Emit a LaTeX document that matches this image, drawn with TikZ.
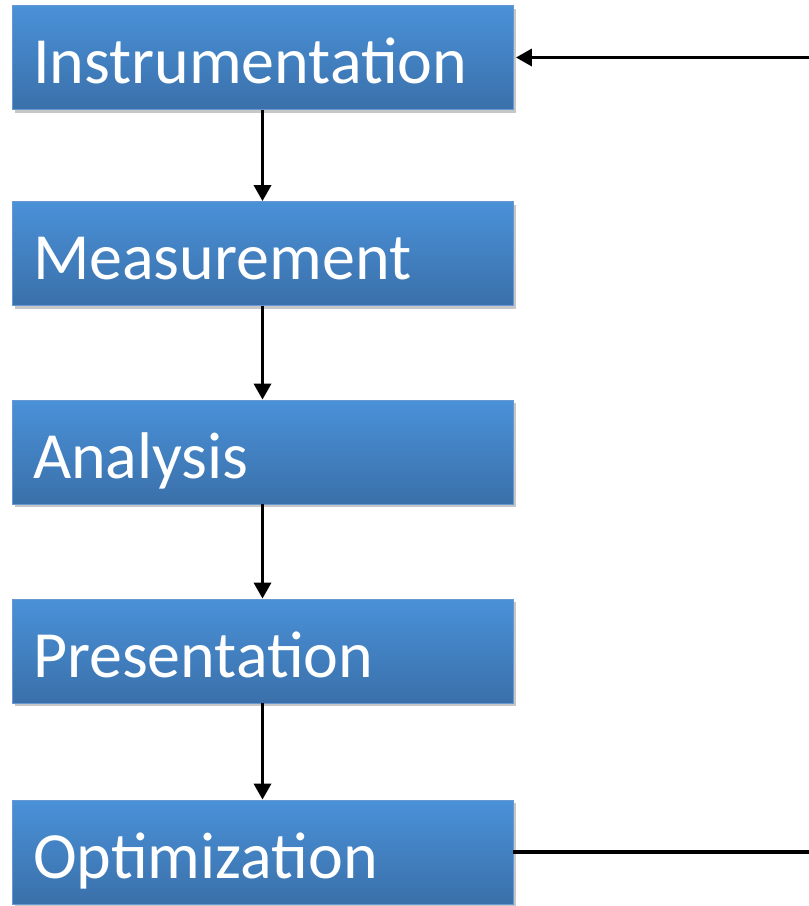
\documentclass[tikz,border=0pt]{standalone}
\usepackage{fontspec}
\setmainfont{Carlito}
\usetikzlibrary{arrows.meta,shadows}

\definecolor{boxtop}{RGB}{74,145,216}
\definecolor{boxbottom}{RGB}{58,112,170}
\definecolor{boxedge}{RGB}{104,152,210}

\tikzset{
  stage/.style={
    rectangle, draw=boxedge, line width=0.8pt,
    top color=boxtop, bottom color=boxbottom,
    drop shadow={shadow xshift=2.5pt, shadow yshift=-3pt, opacity=0.22, fill=black},
    minimum width=501pt, minimum height=104pt,
    text width=459pt, inner xsep=21pt, align=left,
    text height=52pt, text depth=0pt,
    text=white, font=\fontsize{66pt}{70pt}\selectfont
  },
  flow/.style={line width=3.4pt, -{Triangle[width=17pt,length=16pt]}},
  feedback/.style={line width=3.4pt}
}

\begin{document}
\begin{tikzpicture}[x=1pt,y=-1pt]
  \useasboundingbox (0,0) rectangle (809,906);

  % process stages, top to bottom
  \node[stage] (instr) at (262.5,57.5)  {Instrumentation};
  \node[stage] (meas)  at (262.5,253.5) {Measurement};
  \node[stage] (anal)  at (262.5,452)   {Analysis};
  \node[stage] (pres)  at (262.5,651)   {Presentation};
  \node[stage] (opt)   at (262.5,852)   {Optimization};

  % downward flow between stages
  \draw[flow] (instr) -- (meas);
  \draw[flow] (meas)  -- (anal);
  \draw[flow] (anal)  -- (pres);
  \draw[flow] (pres)  -- (opt);

  % feedback loop leaving and re-entering at the right edge
  \coordinate (fbin)  at (809,57.5);
  \coordinate (fbout) at (809,852);
  \draw[flow, shorten >=2.5pt] (fbin) -- (instr.east);
  \draw[feedback] (opt.east) -- (fbout);
\end{tikzpicture}
\end{document}
